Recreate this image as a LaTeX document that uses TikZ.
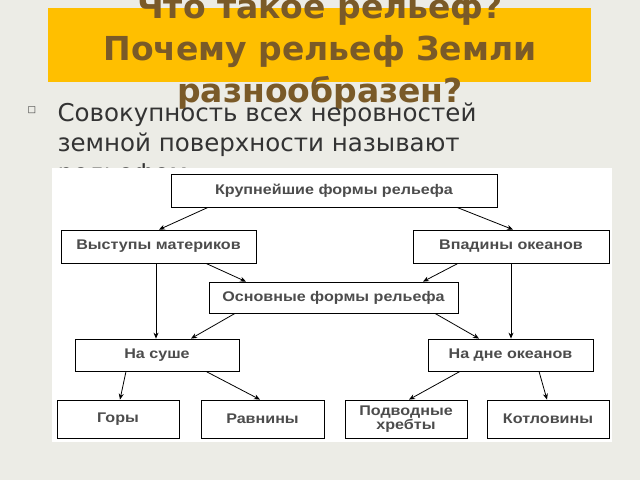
\documentclass[tikz,border=0pt]{standalone}
\usepackage{fontspec}
\setmainfont{DejaVu Sans}
\newfontfamily\boxfont[FakeStretch=1.15]{Liberation Sans}
\definecolor{slidebg}{HTML}{ECECE6}
\definecolor{titlebar}{HTML}{FFBF00}
\definecolor{titletext}{HTML}{7A5A28}
\definecolor{bodytext}{HTML}{333333}
\tikzset{
  formbox/.style={draw, thick, fill=white, inner sep=0pt, font=\boxfont\bfseries\fontsize{14}{12.5}\selectfont, text=black!70, align=center},
  link/.style={-{Stealth[length=6pt,width=5pt]}, thick}
}
\usetikzlibrary{arrows.meta}
\begin{document}
\begin{tikzpicture}[x=1pt, y=-1pt]

\fill[slidebg] (0,0) rectangle (640,480);
\useasboundingbox (0,0) rectangle (640,480);

% title
\fill[titlebar] (48,8) rectangle (591,82);
\begin{scope}
\clip (0,0) rectangle (640,480);
\node[text=titletext, font=\bfseries\fontsize{33}{42}\selectfont, align=center] (title) at (320,51)
  {Что такое рельеф?\\Почему рельеф Земли\\разнообразен?};
\end{scope}

% bullet text
\node[text=bodytext, font=\fontsize{9}{9}\selectfont] (bullet) at (32,110) {\symbol{"25A1}};
\node[text=bodytext, font=\fontsize{24.5}{30}\selectfont, align=left, anchor=north west] (body) at (54,99)
  {Совокупность всех неровностей\\земной поверхности называют\\рельефом};

% diagram panel
\fill[white] (52,168) rectangle (612,442);

\node[formbox, minimum width=326, minimum height=33] (big) at (334,190.5) {Крупнейшие формы рельефа};
\node[formbox, minimum width=195, minimum height=33] (land) at (158.5,246.5) {Выступы материков};
\node[formbox, minimum width=196, minimum height=33] (ocean) at (511,246.5) {Впадины океанов};
\node[formbox, minimum width=249, minimum height=31] (main) at (333.5,297.5) {Основные формы рельефа};
\node[formbox, minimum width=164, minimum height=32] (onland) at (157,355) {На суше};
\node[formbox, minimum width=165, minimum height=32] (onfloor) at (510.5,355) {На дне океанов};
\node[formbox, minimum width=122, minimum height=38] (mount) at (118,419) {Горы};
\node[formbox, minimum width=123, minimum height=38] (plain) at (262.5,419) {Равнины};
\node[formbox, minimum width=122, minimum height=38] (ridge) at (406,419) {Подводные\\хребты};
\node[formbox, minimum width=122, minimum height=38] (basin) at (548,419) {Котловины};

\draw[link] ([xshift=-126pt]big.south) -- ([xshift=0.5pt]land.north);
\draw[link] ([xshift=123pt]big.south) -- ([xshift=2pt]ocean.north);
\draw[link] ([xshift=-2.5pt]land.south) -- ([xshift=-1pt]onland.north);
\draw[link] ([xshift=47.5pt]land.south) -- ([xshift=-87.5pt]main.north);
\draw[link] ([xshift=-53pt]ocean.south) -- ([xshift=89.5pt]main.north);
\draw[link] (ocean.south) -- ([xshift=0.5pt]onfloor.north);
\draw[link] ([xshift=-98.5pt]main.south) -- ([xshift=34pt]onland.north);
\draw[link] ([xshift=101.5pt]main.south) -- ([xshift=-31.5pt]onfloor.north);
\draw[link] ([xshift=-31pt]onland.south) -- ([xshift=2pt]mount.north);
\draw[link] ([xshift=49pt]onland.south) -- ([xshift=-2.5pt]plain.north);
\draw[link] ([xshift=-50.5pt]onfloor.south) -- ([xshift=3pt]ridge.north);
\draw[link] ([xshift=28.5pt]onfloor.south) -- ([xshift=-1pt]basin.north);

\end{tikzpicture}
\end{document}
